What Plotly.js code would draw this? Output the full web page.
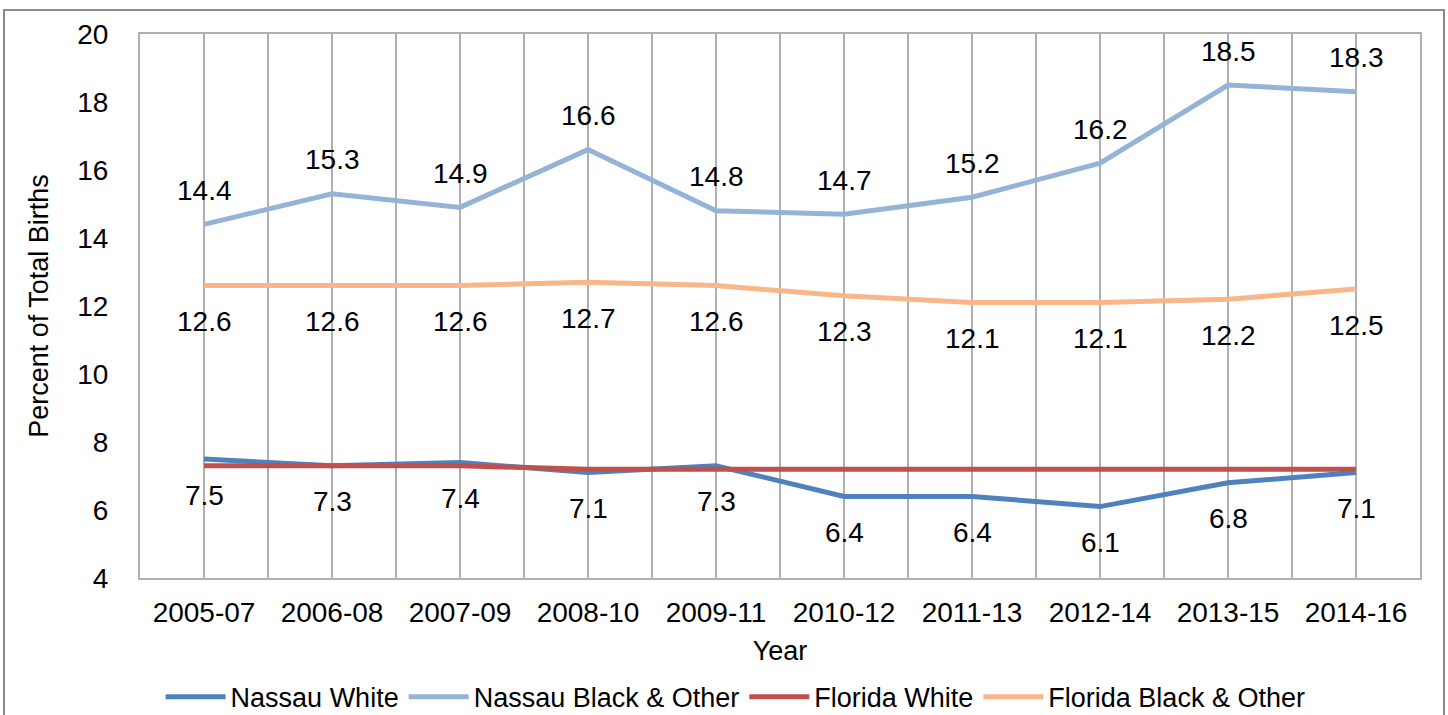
<!DOCTYPE html>
<html>
<head>
<meta charset="utf-8">
<script src="https://cdn.plot.ly/plotly-3.0.1.min.js"></script>
<style>
html,body{margin:0;padding:0;background:#fff;overflow:hidden;}
#wrap{position:relative;width:1448px;height:715px;}
#chart{position:absolute;left:0;top:0;width:1448px;height:715px;}
#frame{position:absolute;left:3px;top:9px;width:1438px;height:720px;border:2px solid #8c8c8c;pointer-events:none;}
</style>
</head>
<body>
<div id="wrap"><div id="chart"></div><div id="frame"></div></div>
<script>
const categories = ["2005-07","2006-08","2007-09","2008-10","2009-11","2010-12","2011-13","2012-14","2013-15","2014-16"];
const nassauWhite = [7.5,7.3,7.4,7.1,7.3,6.4,6.4,6.1,6.8,7.1];
const nassauBlack = [14.4,15.3,14.9,16.6,14.8,14.7,15.2,16.2,18.5,18.3];
const floridaWhite = [7.3,7.3,7.3,7.2,7.2,7.2,7.2,7.2,7.2,7.2];
const floridaBlack = [12.6,12.6,12.6,12.7,12.6,12.3,12.1,12.1,12.2,12.5];
const yTicks = [4,6,8,10,12,14,16,18,20];

const xIdx = categories.map((c,i)=>i);
const FONT = "Liberation Sans, Arial, sans-serif";

function line(name, y, color){
  return {type:"scatter", mode:"lines", name:name, x:xIdx, y:y,
    line:{color:color, width:5}, hoverinfo:"skip"};
}
const traces = [
  line("Nassau White", nassauWhite, "#4F81BD"),
  line("Nassau Black & Other", nassauBlack, "#95B3D7"),
  line("Florida White", floridaWhite, "#C0504D"),
  line("Florida Black & Other", floridaBlack, "#F8B689")
];

const annotations = [];
function labels(y, shift){
  y.forEach((v,i)=>annotations.push({x:xIdx[i], y:v, xref:"x", yref:"y",
    text:v.toFixed(1), showarrow:false, yshift:shift,
    font:{family:FONT, size:28, color:"#000"}}));
}
labels(nassauBlack, 34);
labels(floridaBlack, -36);
labels(nassauWhite, -36);

const layout = {
  width:1448, height:715,
  margin:{l:140, r:28, t:34, b:137},
  paper_bgcolor:"rgba(0,0,0,0)", plot_bgcolor:"#fff",
  font:{family:FONT, color:"#000"},
  showlegend:true,
  legend:{orientation:"h", xref:"container", yref:"container", x:0.508, xanchor:"center",
    y:0.025, yanchor:"middle", font:{family:FONT, size:27, color:"#000"},
    itemwidth:60, traceorder:"normal", tracegroupgap:0},
  xaxis:{range:[-0.5,9.5], tickmode:"array", tickvals:xIdx, ticktext:categories,
    showgrid:true, gridcolor:"#b0b0b0", gridwidth:2,
    minor:{dtick:1, tick0:-0.5, showgrid:true, gridcolor:"#b0b0b0", gridwidth:2},
    showline:true, linecolor:"#b0b0b0", linewidth:2, mirror:true, zeroline:false,
    ticks:"", ticklabelstandoff:8, tickfont:{family:FONT, size:28, color:"#000"},
    title:{text:"Year", font:{family:FONT, size:27, color:"#000"}, standoff:15}},
  yaxis:{range:[4,20], tickmode:"array", tickvals:yTicks, showgrid:false, zeroline:false,
    showline:true, linecolor:"#b0b0b0", linewidth:2, mirror:true,
    ticks:"", ticklabelstandoff:24, tickfont:{family:FONT, size:28, color:"#000"},
    title:{text:"Percent of Total Births", font:{family:FONT, size:27, color:"#000"}, standoff:21}},
  annotations:annotations
};
Plotly.newPlot("chart", traces, layout, {displayModeBar:false, staticPlot:true});
</script>
</body>
</html>
